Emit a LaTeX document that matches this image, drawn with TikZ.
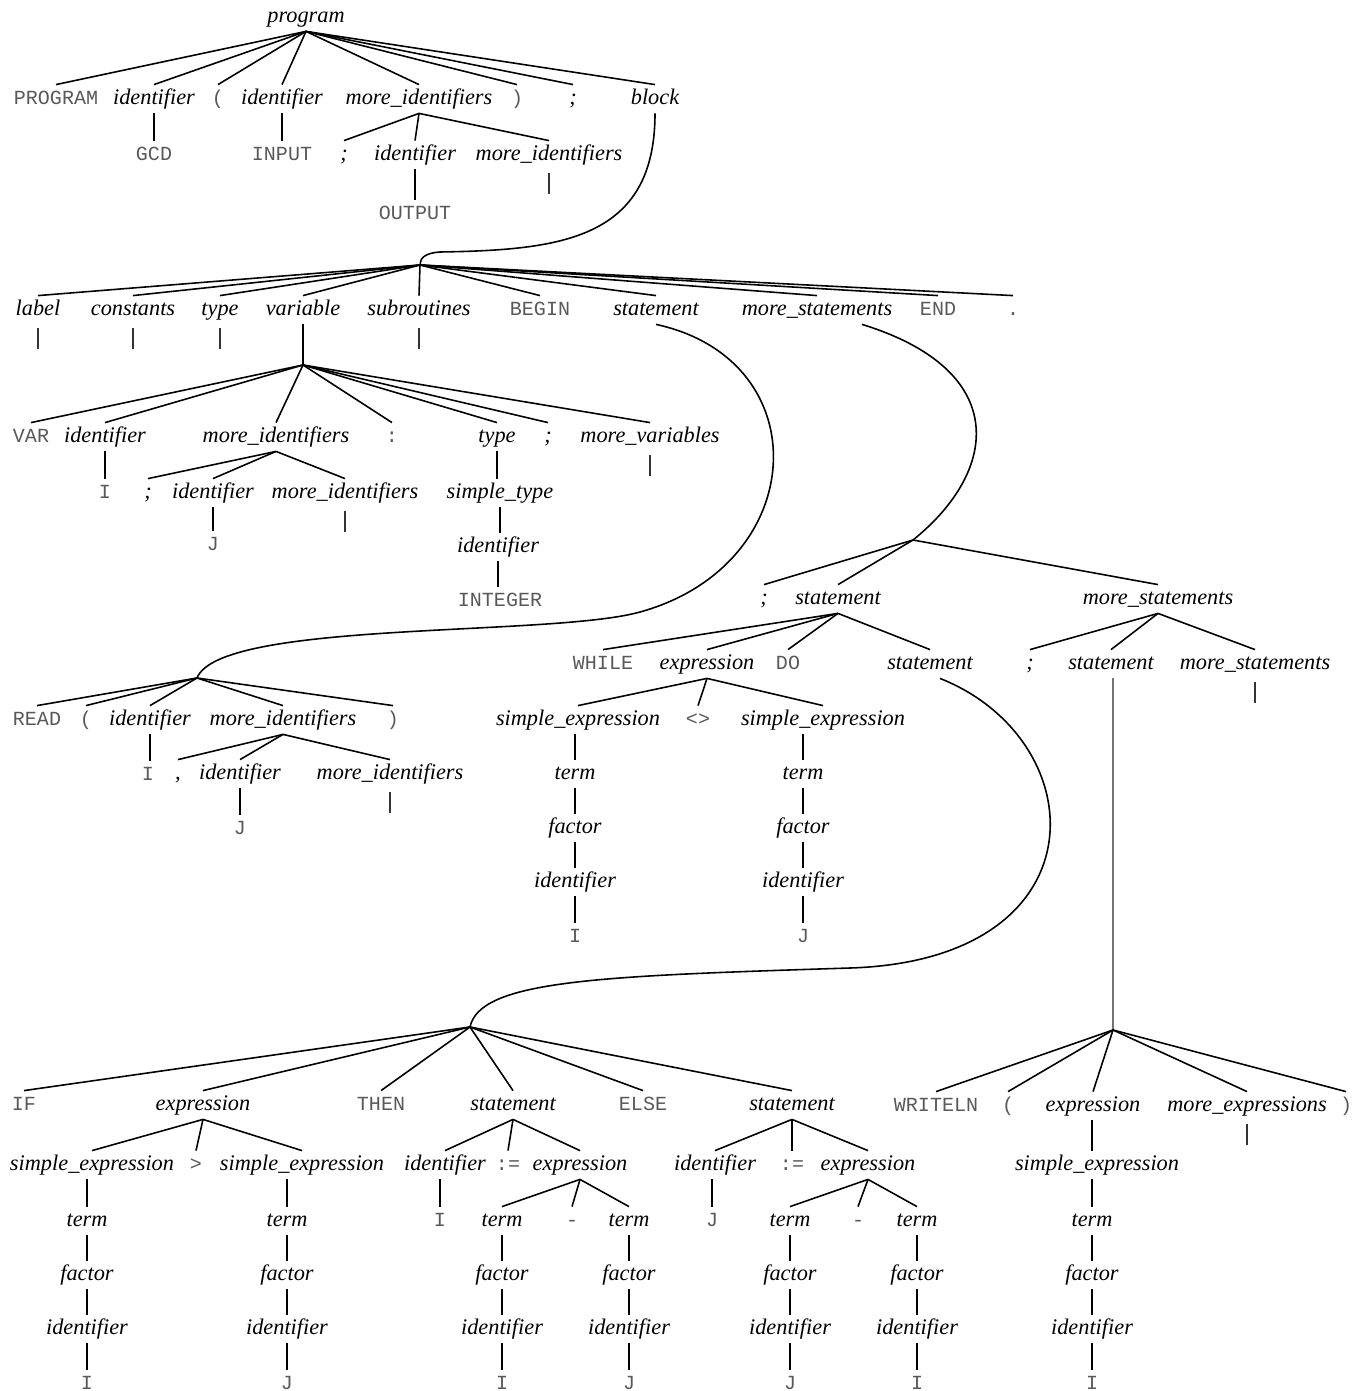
\documentclass[tikz,border=0pt]{standalone}
\usepackage{fontspec}
\setmainfont{Liberation Serif}
\setmonofont{Liberation Mono}
\usetikzlibrary{calc}

\begin{document}
\begin{tikzpicture}[
    x=0.02cm, y=-0.02cm,
    nt/.style={font=\fontsize{12.7}{15}\selectfont\itshape, inner sep=2pt, text height=9pt, text depth=3pt},
    tm/.style={font=\fontsize{11.4}{14}\selectfont\ttfamily, text=black!65, inner sep=2pt, text height=9pt, text depth=3pt},
    link/.style={line width=0.9pt},
    empty/.style={line width=0.9pt, black!80}
]
    \useasboundingbox (0,0) rectangle (1355,1391);

    % program heading
    \node[nt] (prog) at (306,17) {program};
    \node[tm] (pPRO) at (56,99) {PROGRAM};
    \node[nt] (pid1) at (154,99) {identifier};
    \node[tm] (plp) at (218,99) {(};
    \node[nt] (pid2) at (282,99) {identifier};
    \node[nt] (pmi) at (419,99) {more\_identifiers};
    \node[tm] (prp) at (517,99) {)};
    \node[nt] (psc) at (573,99) {;};
    \node[nt] (pblk) at (655,99) {block};
    \node[tm] (gcd) at (154,155) {GCD};
    \node[tm] (input) at (282,155) {INPUT};
    \node[nt] (msc) at (344,155) {;};
    \node[nt] (mid) at (415,155) {identifier};
    \node[nt] (mmi) at (549,155) {more\_identifiers};
    \node[tm] (output) at (415,214) {OUTPUT};

    \foreach \c in {pPRO,pid1,plp,pid2,pmi,prp,psc,pblk}
        \draw[link] (prog.south) -- (\c.north);
    \foreach \c in {msc,mid,mmi}
        \draw[link] (pmi.south) -- (\c.north);
    \draw[link] (pid1.south) -- (pid1.south |- gcd.north);
    \draw[link] (pid2.south) -- (pid2.south |- input.north);
    \draw[link] (mid.south) -- (mid.south |- output.north);

    % block
    \coordinate (bj) at (420,265);
    \draw[link] (pblk.south) .. controls (655,240) and (560,250) .. (440,252)
        .. controls (425,253) and (420,258) .. (bj);
    \node[nt] (blab) at (38,310) {label};
    \node[nt] (bcon) at (133,310) {constants};
    \node[nt] (btyp) at (220,310) {type};
    \node[nt] (bvar) at (303,310) {variable};
    \node[nt] (bsub) at (419,310) {subroutines};
    \node[tm] (bbeg) at (540,310) {BEGIN};
    \node[nt] (bst) at (656,310) {statement};
    \node[nt] (bms) at (817,310) {more\_statements};
    \node[tm] (bend) at (938,310) {END};
    \node[tm] (bdot) at (1013,310) {.};
    \foreach \c in {blab,bcon,btyp,bvar,bsub,bbeg,bst,bms,bend,bdot}
        \draw[link] (bj) -- (\c.north);

    % variable declarations
    \coordinate (vj) at (303,365);
    \draw[link] (bvar.south) -- (vj);
    \node[tm] (vVAR) at (31,437) {VAR};
    \node[nt] (vid) at (105,437) {identifier};
    \node[nt] (vmi) at (276,437) {more\_identifiers};
    \node[tm] (vcol) at (392,437) {:};
    \node[nt] (vtyp) at (497,437) {type};
    \node[nt] (vsc) at (548,437) {;};
    \node[nt] (vmv) at (650,437) {more\_variables};
    \foreach \c in {vVAR,vid,vmi,vcol,vtyp,vsc,vmv}
        \draw[link] (vj) -- (\c.north);
    \node[tm] (vI) at (105,493) {I};
    \node[nt] (vsc2) at (148,493) {;};
    \node[nt] (vid2) at (213,493) {identifier};
    \node[nt] (vmi2) at (345,493) {more\_identifiers};
    \node[nt] (vst) at (500,493) {simple\_type};
    \node[tm] (vJ) at (213,545) {J};
    \node[nt] (vid3) at (498,547) {identifier};
    \node[tm] (vint) at (500,601) {INTEGER};
    \foreach \c in {vsc2,vid2,vmi2}
        \draw[link] (vmi.south) -- (\c.north);
    \draw[link] (vid.south) -- (vid.south |- vI.north);
    \draw[link] (vid2.south) -- (vid2.south |- vJ.north);
    \draw[link] (vtyp.south) -- (vtyp.south |- vst.north);
    \draw[link] (vst.south) -- (vst.south |- vid3.north);
    \draw[link] (vid3.south) -- (vid3.south |- vint.north);

    % READ statement
    \coordinate (rj) at (197,678);
    \draw[link] (bst.south) .. controls (820,360) and (810,565) .. (640,612)
        .. controls (550,637) and (220,620) .. (rj);
    \node[tm] (rREAD) at (37,720) {READ};
    \node[tm] (rlp) at (86,720) {(};
    \node[nt] (rid) at (150,720) {identifier};
    \node[nt] (rmi) at (283,720) {more\_identifiers};
    \node[tm] (rrp) at (393,720) {)};
    \foreach \c in {rREAD,rlp,rid,rmi,rrp}
        \draw[link] (rj) -- (\c.north);
    \node[tm] (rI) at (148,775) {I};
    \node[nt] (rcom) at (178,774) {,};
    \node[nt] (rid2) at (240,774) {identifier};
    \node[nt] (rmi2) at (390,774) {more\_identifiers};
    \node[tm] (rJ) at (240,829) {J};
    \foreach \c in {rcom,rid2,rmi2}
        \draw[link] (rmi.south) -- (\c.north);
    \draw[link] (rid.south) -- (rid.south |- rI.north);
    \draw[link] (rid2.south) -- (rid2.south |- rJ.north);

    % more statements
    \coordinate (msj) at (913,540);
    \draw[link] ([xshift=0.9cm]bms.south) .. controls (1010,370) and (1000,470) .. (msj);
    \node[nt] (wsc) at (764,599) {;};
    \node[nt] (wst) at (838,599) {statement};
    \node[nt] (wms) at (1158,599) {more\_statements};
    \foreach \c in {wsc,wst,wms}
        \draw[link] (msj) -- (\c.north);

    % WHILE statement
    \node[tm] (wWH) at (603,664) {WHILE};
    \node[nt] (wexp) at (707,664) {expression};
    \node[tm] (wDO) at (788,664) {DO};
    \node[nt] (wst2) at (930,664) {statement};
    \foreach \c in {wWH,wexp,wDO,wst2}
        \draw[link] (wst.south) -- (\c.north);
    \node[nt] (wse1) at (578,720) {simple\_expression};
    \node[tm] (wne) at (698,720) {<>};
    \node[nt] (wse2) at (823,720) {simple\_expression};
    \foreach \c in {wse1,wne,wse2}
        \draw[link] (wexp.south) -- (\c.north);
    \node[nt] (wt1) at (575,774) {term};
    \node[nt] (wt2) at (803,774) {term};
    \draw[link] (wse1.south -| wt1) -- (wt1.north);
    \draw[link] (wse2.south -| wt2) -- (wt2.north);

    \node[nt] (wsc2) at (1030,664) {;};
    \node[nt] (wst3) at (1111,664) {statement};
    \node[nt] (wms2) at (1255,664) {more\_statements};
    \foreach \c in {wsc2,wst3,wms2}
        \draw[link] (wms.south) -- (\c.north);

    % IF statement
    \coordinate (ij) at (470,1027);
    \draw[link] ([xshift=0.2cm]wst2.south) .. controls (1095,740) and (1105,960) .. (850,968)
        .. controls (600,976) and (480,980) .. (ij);
    \node[tm] (iIF) at (24,1105) {IF};
    \node[nt] (iexp) at (203,1105) {expression};
    \node[tm] (iTH) at (381,1105) {THEN};
    \node[nt] (ist) at (513,1105) {statement};
    \node[tm] (iEL) at (643,1105) {ELSE};
    \node[nt] (ist2) at (792,1105) {statement};
    \foreach \c in {iIF,iexp,iTH,ist,iEL,ist2}
        \draw[link] (ij) -- (\c.north);

    \node[nt] (ise1) at (92,1165) {simple\_expression};
    \node[tm] (igt) at (196,1165) {>};
    \node[nt] (ise2) at (302,1165) {simple\_expression};
    \foreach \c in {ise1,igt,ise2}
        \draw[link] (iexp.south) -- (\c.north);
    \node[nt] (it1) at (87,1221) {term};
    \node[nt] (it2) at (287,1221) {term};
    \draw[link] (ise1.south -| it1) -- (it1.north);
    \draw[link] (ise2.south -| it2) -- (it2.north);

    \node[nt] (iid) at (445,1165) {identifier};
    \node[tm] (ias) at (508,1165) {:=};
    \node[nt] (iexp2) at (580,1165) {expression};
    \foreach \c in {iid,ias,iexp2}
        \draw[link] (ist.south) -- (\c.north);
    \node[tm] (iI) at (440,1221) {I};
    \draw[link] (iid.south -| iI) -- (iI.north);
    \node[nt] (it3) at (502,1221) {term};
    \node[tm] (imin) at (572,1221) {-};
    \node[nt] (it4) at (629,1221) {term};
    \foreach \c in {it3,imin,it4}
        \draw[link] (iexp2.south) -- (\c.north);

    \node[nt] (jid) at (715,1165) {identifier};
    \node[tm] (jas) at (792,1165) {:=};
    \node[nt] (jexp) at (868,1165) {expression};
    \foreach \c in {jid,jas,jexp}
        \draw[link] (ist2.south) -- (\c.north);
    \node[tm] (jJ) at (712,1221) {J};
    \draw[link] (jid.south -| jJ) -- (jJ.north);
    \node[nt] (jt1) at (790,1221) {term};
    \node[tm] (jmin) at (858,1221) {-};
    \node[nt] (jt2) at (917,1221) {term};
    \foreach \c in {jt1,jmin,jt2}
        \draw[link] (jexp.south) -- (\c.north);

    % WRITELN statement
    \coordinate (xj) at (1113,1030);
    \draw[link, black!55] (wst3.south -| xj) -- (xj);
    \node[tm] (xWR) at (936,1106) {WRITELN};
    \node[tm] (xlp) at (1008,1106) {(};
    \node[nt] (xexp) at (1093,1106) {expression};
    \node[nt] (xme) at (1247,1106) {more\_expressions};
    \node[tm] (xrp) at (1346,1106) {)};
    \foreach \c in {xWR,xlp,xexp,xme,xrp}
        \draw[link] (xj) -- (\c.north);
    \node[nt] (xse) at (1097,1165) {simple\_expression};
    \node[nt] (xt) at (1092,1221) {term};
    \draw[link] (xexp.south -| xt) -- (xse.north -| xt);
    \draw[link] (xse.south -| xt) -- (xt.north);

    % term -> factor -> identifier -> name
    \foreach \t/\v in {wt1/I,wt2/J,it1/I,it2/J,it3/I,it4/J,jt1/J,jt2/I,xt/I} {
        \node[nt] (\t-f) at ($(\t)+(0,54)$) {factor};
        \node[nt] (\t-i) at ($(\t)+(0,108)$) {identifier};
        \node[tm] (\t-n) at ($(\t)+(0,163)$) {\v};
        \draw[link] (\t.south) -- (\t-f.north);
        \draw[link] (\t-f.south) -- (\t-i.north);
        \draw[link] (\t-i.south) -- (\t-n.north);
    }

    % empty productions
    \foreach \c in {mmi,blab,bcon,btyp,bsub,vmv,vmi2,rmi2,wms2,xme}
        \draw[empty] (\c.south) ++(0,4) -- ++(0,21);
\end{tikzpicture}
\end{document}
